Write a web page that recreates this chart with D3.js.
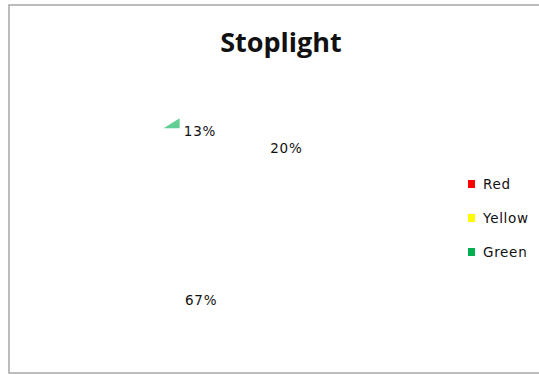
<!DOCTYPE html>
<html lang="en">
<head>
  <meta charset="UTF-8">
  <title>Stoplight</title>
  <style>
    html, body { margin: 0; padding: 0; background: #fff; }
    .title { font-family: "Open Sans", sans-serif; font-weight: 700; font-size: 27px; fill: #111; text-anchor: middle; }
    .pctLabel, .legendText { font-family: "DejaVu Sans", sans-serif; font-size: 13.5px; letter-spacing: 0.7px; fill: #111; }
    .pctLabel { text-anchor: middle; }
  </style>
  <script src="https://cdn.jsdelivr.net/npm/d3@7"></script>
</head>
<body>
<script>
  // data
  const categories = ['Red', 'Yellow', 'Green'];
  const values = [20, 67, 13];
  const colors = ['#ff0000', '#ffff00', '#00b050'];

  const width = 539;
  const height = 374;
  const cx = 228, cy = 216;
  const radius = 112;
  const labelRadius = 89;

  const svg = d3.select('body').append('svg')
    .attr('width', width)
    .attr('height', height);

  // chart border (right edge runs off the picture)
  svg.append('rect')
    .attr('x', 9).attr('y', 5)
    .attr('width', width + 20).attr('height', 368)
    .attr('fill', '#fff')
    .attr('stroke', '#a6a6a6')
    .attr('stroke-width', 1.5);

  svg.append('text')
    .attr('class', 'title')
    .attr('x', 281).attr('y', 52)
    .text('Stoplight');

  const pie = d3.pie().sort(null).startAngle(5 * Math.PI / 180).endAngle(2 * Math.PI + 5 * Math.PI / 180);
  const arcs = pie(values);
  const total = d3.sum(values);

  const arc = d3.arc().innerRadius(0).outerRadius(radius);
  const labelArc = d3.arc().innerRadius(labelRadius).outerRadius(labelRadius);

  const g = svg.append('g').attr('transform', `translate(${cx},${cy})`);

  // slices are rendered without fill in the reference
  g.selectAll('.slice')
    .data(arcs)
    .enter()
    .append('path')
    .attr('class', 'slice')
    .attr('d', arc)
    .attr('fill', '#fff');

  // small visible sliver of the green slice
  const green = arcs[2];
  const sliverAngle = green.startAngle + (green.endAngle - green.startAngle) * 0.33;
  const px = Math.sin(sliverAngle) * 109;
  const py = -Math.cos(sliverAngle) * 109;
  g.append('path')
    .attr('d', `M${px},${py}L${px},${py + 10}L${px - 16},${py + 10}Z`)
    .attr('fill', colors[2])
    .attr('opacity', 0.62);

  g.selectAll('.pctLabel')
    .data(arcs)
    .enter()
    .append('text')
    .attr('class', 'pctLabel')
    .attr('x', (d) => labelArc.centroid(d)[0])
    .attr('y', (d) => labelArc.centroid(d)[1] + 4)
    .text((d) => Math.round(d.value / total * 100) + '%');

  // legend
  const legend = svg.append('g').attr('transform', 'translate(468,184)');
  const item = legend.selectAll('.legendItem')
    .data(categories)
    .enter()
    .append('g')
    .attr('class', 'legendItem')
    .attr('transform', (d, i) => `translate(0,${i * 34})`);
  item.append('rect')
    .attr('x', 0).attr('y', -4)
    .attr('width', 7).attr('height', 8)
    .attr('fill', (d, i) => colors[i]);
  item.append('text')
    .attr('class', 'legendText')
    .attr('x', 15).attr('y', 5)
    .text((d) => d);
</script>
</body>
</html>
